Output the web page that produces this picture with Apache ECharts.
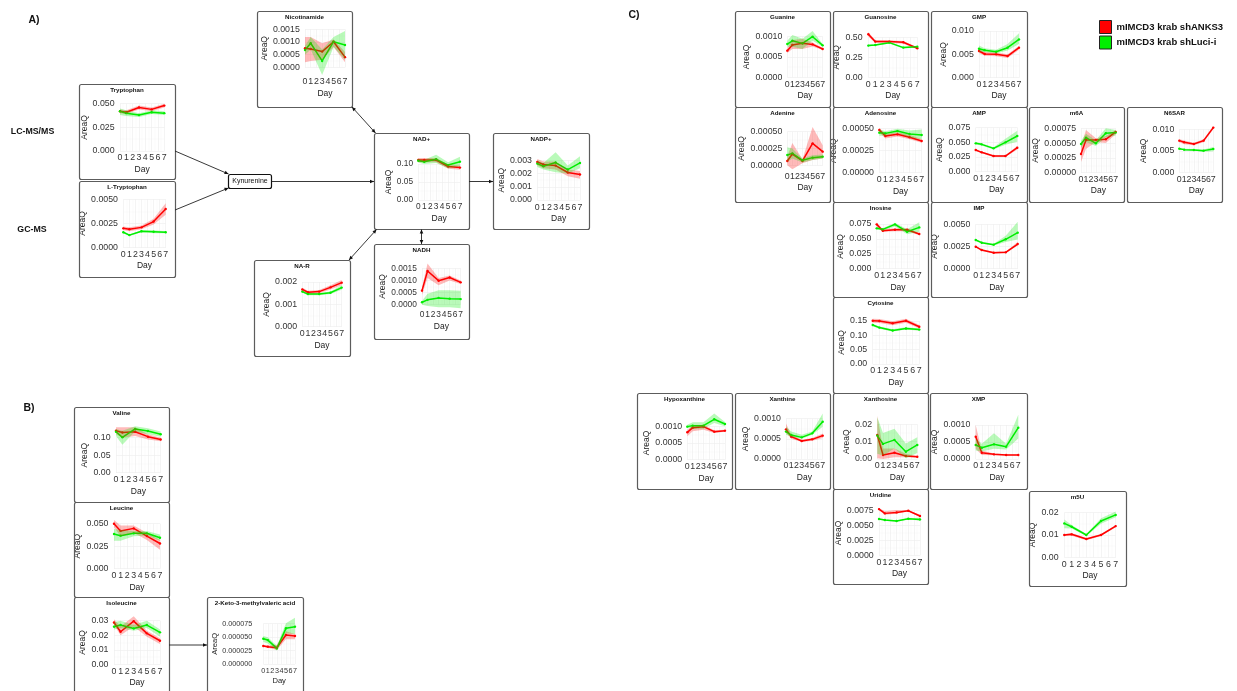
<!DOCTYPE html>
<html>
<head>
<meta charset="utf-8">
<script src="https://cdn.jsdelivr.net/npm/echarts@6/dist/echarts.min.js"></script>
<style>
  html, body { margin: 0; padding: 0; background: #ffffff; }
  #chart { width: 1237px; height: 691px; }
</style>
</head>
<body>
<div id="chart"></div>
<script>
// Sampling days and the two cell lines
const days = [0, 1, 3, 5, 7];
const groupNames = ['mIMCD3 krab shANKS3', 'mIMCD3 krab shLuci-i'];

// Each row is [lower, mean, upper] for one sampling day
const tryptophanTicks = ['0.000', '0.025', '0.050'];
const tryptophanANKS3 = [[0.040, 0.042, 0.044], [0.039, 0.041, 0.043], [0.044, 0.046, 0.048], [0.042, 0.044, 0.046], [0.046, 0.048, 0.050]];
const tryptophanLuci = [[0.038, 0.042, 0.045], [0.037, 0.040, 0.043], [0.036, 0.038, 0.040], [0.039, 0.041, 0.043], [0.038, 0.040, 0.042]];

const lTryptophanTicks = ['0.0000', '0.0025', '0.0050'];
const lTryptophanANKS3 = [[0.0018, 0.0020, 0.0022], [0.0017, 0.0019, 0.0021], [0.0019, 0.0021, 0.0023], [0.0024, 0.0027, 0.0030], [0.0034, 0.0040, 0.0046]];
const lTryptophanLuci = [[0.0015, 0.0016, 0.0017], [0.0012, 0.0013, 0.0014], [0.0016, 0.0017, 0.0018], [0.0015, 0.00165, 0.0018], [0.0015, 0.0016, 0.0017]];

const nicotinamideTicks = ['0.0000', '0.0005', '0.0010', '0.0015'];
const nicotinamideANKS3 = [[0.0002, 0.00075, 0.0012], [0.00025, 0.00072, 0.0012], [0.0003, 0.00062, 0.00095], [0.0008, 0.00101, 0.0011], [0.0002, 0.0004, 0.0006]];
const nicotinamideLuci = [[0.0005, 0.00068, 0.00085], [0.0007, 0.00095, 0.0012], [-0.0003, 0.00025, 0.0007], [0.0008, 0.00101, 0.0012], [0.0003, 0.00088, 0.00143]];

const nadTicks = ['0.00', '0.05', '0.10'];
const nadANKS3 = [[0.105, 0.111, 0.117], [0.105, 0.111, 0.117], [0.105, 0.111, 0.117], [0.087, 0.093, 0.099], [0.084, 0.090, 0.096]];
const nadLuci = [[0.104, 0.109, 0.114], [0.100, 0.106, 0.112], [0.103, 0.113, 0.126], [0.088, 0.097, 0.105], [0.094, 0.1065, 0.120]];

const nadpTicks = ['0.000', '0.001', '0.002', '0.003'];
const nadpANKS3 = [[0.0026, 0.00288, 0.0031], [0.0024, 0.00268, 0.0029], [0.0023, 0.0026, 0.0029], [0.0018, 0.00208, 0.0023], [0.0016, 0.00193, 0.0022]];
const nadpLuci = [[0.0025, 0.00275, 0.0030], [0.0023, 0.00255, 0.0028], [0.0021, 0.00283, 0.0036], [0.0020, 0.0023, 0.0026], [0.0024, 0.0028, 0.0033]];

const naRTicks = ['0.000', '0.001', '0.002'];
const naRANKS3 = [[0.0016, 0.00167, 0.00174], [0.00147, 0.00154, 0.00161], [0.0015, 0.00157, 0.00164], [0.00167, 0.00176, 0.00185], [0.00185, 0.00197, 0.00209]];
const naRLuci = [[0.00152, 0.00157, 0.00162], [0.00141, 0.00146, 0.00151], [0.00141, 0.00146, 0.00151], [0.00146, 0.00152, 0.00158], [0.00165, 0.00175, 0.00185]];

const nadhTicks = ['0.0000', '0.0005', '0.0010', '0.0015'];
const nadhANKS3 = [[0.0004, 0.00058, 0.0007], [0.0011, 0.00139, 0.0017], [0.0008, 0.00099, 0.0011], [0.0010, 0.00112, 0.0012], [0.00085, 0.00092, 0.0010]];
const nadhLuci = [[0.0, 0.0001, 0.00015], [-0.00005, 0.0002, 0.00045], [-0.0001, 0.00028, 0.0006], [-0.0001, 0.00025, 0.0006], [-0.00015, 0.00023, 0.00058]];

const valineTicks = ['0.00', '0.05', '0.10'];
const valineANKS3 = [[0.110, 0.120, 0.130], [0.100, 0.115, 0.130], [0.105, 0.117, 0.130], [0.095, 0.103, 0.110], [0.090, 0.095, 0.100]];
const valineLuci = [[0.105, 0.117, 0.125], [0.080, 0.101, 0.120], [0.118, 0.125, 0.133], [0.110, 0.119, 0.127], [0.103, 0.110, 0.118]];

const leucineTicks = ['0.000', '0.025', '0.050'];
const leucineANKS3 = [[0.046, 0.050, 0.054], [0.036, 0.042, 0.048], [0.040, 0.0448, 0.048], [0.032, 0.0363, 0.040], [0.021, 0.028, 0.032]];
const leucineLuci = [[0.031, 0.0385, 0.044], [0.031, 0.0367, 0.043], [0.036, 0.0393, 0.042], [0.037, 0.0393, 0.042], [0.031, 0.0344, 0.038]];

const isoleucineTicks = ['0.00', '0.01', '0.02', '0.03'];
const isoleucineANKS3 = [[0.027, 0.0288, 0.031], [0.020, 0.0224, 0.026], [0.026, 0.0297, 0.033], [0.019, 0.0213, 0.023], [0.014, 0.0162, 0.018]];
const isoleucineLuci = [[0.024, 0.0259, 0.029], [0.025, 0.027, 0.030], [0.023, 0.0247, 0.027], [0.025, 0.027, 0.030], [0.019, 0.022, 0.024]];

const ketoTicks = ['0.000000', '0.000025', '0.000050', '0.000075'];
const ketoANKS3 = [[0.0000315, 0.0000335, 0.0000355], [0.0000303, 0.0000323, 0.0000343], [0.000026, 0.0000304, 0.000036], [0.000046, 0.000054, 0.000061], [0.000046, 0.000052, 0.000056]];
const ketoLuci = [[0.000041, 0.000047, 0.000052], [0.000038, 0.0000445, 0.00005], [0.000025, 0.000029, 0.000034], [0.000057, 0.0000664, 0.000076], [0.000056, 0.0000695, 0.000086]];

const guanineTicks = ['0.0000', '0.0005', '0.0010'];
const guanineANKS3 = [[0.0006, 0.000656, 0.00072], [0.0007, 0.000795, 0.00092], [0.0007, 0.000836, 0.00095], [0.00076, 0.00081, 0.00086], [0.00067, 0.000697, 0.00072]];
const guanineLuci = [[0.00075, 0.00082, 0.0009], [0.00075, 0.0009, 0.00104], [0.0007, 0.000836, 0.00095], [0.0009, 0.001, 0.00114], [0.00075, 0.000787, 0.00082]];

const guanosineTicks = ['0.00', '0.25', '0.50'];
const guanosineANKS3 = [[0.51, 0.5375, 0.565], [0.43, 0.446, 0.462], [0.43, 0.446, 0.462], [0.42, 0.4375, 0.455], [0.35, 0.3625, 0.375]];
const guanosineLuci = [[0.386, 0.396, 0.406], [0.394, 0.404, 0.414], [0.423, 0.433, 0.443], [0.361, 0.371, 0.381], [0.373, 0.383, 0.393]];

const gmpTicks = ['0.000', '0.005', '0.010'];
const gmpANKS3 = [[0.0053, 0.00571, 0.0061], [0.0047, 0.00507, 0.0055], [0.0046, 0.005, 0.0054], [0.0042, 0.00464, 0.0050], [0.0060, 0.00643, 0.0068]];
const gmpLuci = [[0.0055, 0.0062, 0.0069], [0.0055, 0.0059, 0.0063], [0.0052, 0.00557, 0.0060], [0.0058, 0.00643, 0.0072], [0.0072, 0.0082, 0.0095]];

const adenineTicks = ['0.00000', '0.00025', '0.00050'];
const adenineANKS3 = [[0.0, 0.0000644, 0.00013], [-0.00006, 0.000168, 0.00033], [0.00003, 0.0000644, 0.00009], [0.00008, 0.000327, 0.00057], [0.0001, 0.000203, 0.0003]];
const adenineLuci = [[0.00005, 0.000153, 0.00027], [0.0001, 0.000178, 0.00025], [0.00004, 0.0000743, 0.0001], [0.00008, 0.000114, 0.00015], [0.0001, 0.000129, 0.00016]];

const adenosineTicks = ['0.00000', '0.00025', '0.00050'];
const adenosineANKS3 = [[0.00046, 0.000485, 0.00051], [0.00039, 0.000417, 0.00044], [0.00041, 0.000436, 0.00046], [0.00038, 0.000402, 0.00043], [0.00034, 0.00036, 0.00038]];
const adenosineLuci = [[0.00042, 0.000455, 0.00049], [0.00042, 0.000447, 0.00047], [0.00045, 0.000473, 0.0005], [0.0004, 0.00044, 0.00048], [0.00038, 0.000428, 0.00049]];

const ampTicks = ['0.000', '0.025', '0.050', '0.075'];
const ampANKS3 = [[0.0354, 0.0369, 0.0384], [0.0315, 0.033, 0.0345], [0.0252, 0.0267, 0.0282], [0.0252, 0.0267, 0.0282], [0.038, 0.0409, 0.044]];
const ampLuci = [[0.0463, 0.0483, 0.0503], [0.0446, 0.0466, 0.0486], [0.0378, 0.0398, 0.0418], [0.046, 0.050, 0.056], [0.051, 0.0608, 0.070]];

const m6aTicks = ['0.00000', '0.00025', '0.00050', '0.00075'];
const m6aANKS3 = [[0.00018, 0.000316, 0.00045], [0.0004, 0.000553, 0.00072], [0.00052, 0.000553, 0.00058], [0.0005, 0.000564, 0.00062], [0.00065, 0.000688, 0.00072]];
const m6aLuci = [[0.00043, 0.000485, 0.00054], [0.00052, 0.000593, 0.00066], [0.00045, 0.000497, 0.00055], [0.0006, 0.000666, 0.00075], [0.00063, 0.000677, 0.00072]];

const n6sarTicks = ['0.000', '0.005', '0.010'];
const n6sarANKS3 = [[0.0070, 0.00736, 0.0077], [0.0065, 0.00698, 0.0074], [0.0063, 0.00659, 0.0069], [0.0070, 0.00736, 0.0077], [0.0100, 0.0104, 0.0108]];
const n6sarLuci = [[0.0053, 0.0055, 0.0057], [0.0051, 0.00527, 0.0055], [0.0050, 0.0052, 0.0054], [0.0048, 0.00504, 0.0053], [0.0049, 0.00543, 0.0059]];

const inosineTicks = ['0.000', '0.025', '0.050', '0.075'];
const inosineANKS3 = [[0.071, 0.0744, 0.078], [0.062, 0.0638, 0.066], [0.063, 0.0654, 0.068], [0.063, 0.0654, 0.068], [0.056, 0.0582, 0.060]];
const inosineLuci = [[0.0657, 0.0677, 0.0697], [0.064, 0.066, 0.068], [0.071, 0.0744, 0.077], [0.058, 0.062, 0.066], [0.062, 0.0693, 0.078]];

const impTicks = ['0.0000', '0.0025', '0.0050'];
const impANKS3 = [[0.00238, 0.00248, 0.00258], [0.002, 0.0021, 0.0022], [0.0017, 0.0018, 0.0019], [0.00174, 0.00184, 0.00194], [0.0026, 0.00278, 0.0030]];
const impLuci = [[0.00313, 0.00323, 0.00333], [0.00283, 0.00293, 0.00303], [0.00261, 0.00271, 0.00281], [0.0030, 0.00331, 0.0037], [0.0033, 0.00406, 0.0053]];

const cytosineTicks = ['0.00', '0.05', '0.10', '0.15'];
const cytosineANKS3 = [[0.144, 0.151, 0.158], [0.143, 0.150, 0.157], [0.135, 0.142, 0.149], [0.144, 0.151, 0.158], [0.124, 0.130, 0.136]];
const cytosineLuci = [[0.132, 0.136, 0.140], [0.123, 0.127, 0.131], [0.113, 0.117, 0.121], [0.120, 0.124, 0.128], [0.116, 0.120, 0.124]];

const hypoxanthineTicks = ['0.0000', '0.0005', '0.0010'];
const hypoxanthineANKS3 = [[0.0007, 0.00082, 0.0009], [0.00085, 0.00096, 0.00102], [0.0009, 0.00099, 0.00105], [0.0008, 0.00084, 0.00088], [0.00084, 0.00087, 0.0009]];
const hypoxanthineLuci = [[0.00095, 0.00099, 0.00105], [0.00093, 0.00102, 0.00112], [0.00093, 0.00102, 0.00112], [0.0011, 0.00121, 0.00138], [0.001, 0.00107, 0.00113]];

const xanthineTicks = ['0.0000', '0.0005', '0.0010'];
const xanthineANKS3 = [[0.00065, 0.000736, 0.00088], [0.0005, 0.000554, 0.0006], [0.00042, 0.000446, 0.00048], [0.00045, 0.000488, 0.00052], [0.00052, 0.000579, 0.00063]];
const xanthineLuci = [[0.0006, 0.00068, 0.0008], [0.00055, 0.000595, 0.00068], [0.0005, 0.000537, 0.0006], [0.0006, 0.000636, 0.00068], [0.0008, 0.000925, 0.00113]];

const xanthosineTicks = ['0.00', '0.01', '0.02'];
const xanthosineANKS3 = [[0.0004, 0.0138, 0.025], [0.0, 0.0023, 0.006], [0.001, 0.00365, 0.006], [0.001, 0.0017, 0.003], [0.0008, 0.0013, 0.0018]];
const xanthosineLuci = [[0.003, 0.0135, 0.024], [0.002, 0.0087, 0.015], [0.006, 0.011, 0.0175], [0.0005, 0.0042, 0.009], [0.0035, 0.0081, 0.0125]];

const xmpTicks = ['0.0000', '0.0005', '0.0010'];
const xmpANKS3 = [[0.0003, 0.000657, 0.001], [0.00012, 0.000186, 0.00025], [0.00011, 0.000137, 0.00016], [0.0001, 0.000118, 0.00014], [0.0001, 0.000118, 0.00014]];
const xmpLuci = [[0.00025, 0.000412, 0.0006], [0.00022, 0.000333, 0.00045], [0.0003, 0.000431, 0.00076], [0.00028, 0.000363, 0.00045], [0.0006, 0.000922, 0.0013]];

const uridineTicks = ['0.0000', '0.0025', '0.0050', '0.0075'];
const uridineANKS3 = [[0.00757, 0.00777, 0.00797], [0.0068, 0.00705, 0.0074], [0.0070, 0.00721, 0.0076], [0.00739, 0.00749, 0.00759], [0.0064, 0.0066, 0.0068]];
const uridineLuci = [[0.006, 0.0061, 0.0062], [0.00583, 0.00593, 0.00603], [0.00566, 0.00576, 0.00586], [0.00605, 0.00615, 0.00625], [0.0058, 0.00604, 0.0063]];

const m5uTicks = ['0.00', '0.01', '0.02'];
const m5uANKS3 = [[0.0095, 0.010, 0.0105], [0.0097, 0.0103, 0.0109], [0.0077, 0.0082, 0.0087], [0.0095, 0.010, 0.0105], [0.0135, 0.014, 0.0145]];
const m5uLuci = [[0.013, 0.0152, 0.017], [0.0129, 0.0137, 0.0145], [0.0095, 0.010, 0.0105], [0.015, 0.0163, 0.0175], [0.018, 0.019, 0.0205]];

// Metabolite panels, assembled from the arrays above
const panels = [
  { title: 'Tryptophan', ticks: tryptophanTicks, anks3: tryptophanANKS3, luci: tryptophanLuci },
  { title: 'L-Tryptophan', ticks: lTryptophanTicks, anks3: lTryptophanANKS3, luci: lTryptophanLuci },
  { title: 'Nicotinamide', ticks: nicotinamideTicks, anks3: nicotinamideANKS3, luci: nicotinamideLuci },
  { title: 'NAD+', ticks: nadTicks, anks3: nadANKS3, luci: nadLuci },
  { title: 'NADP+', ticks: nadpTicks, anks3: nadpANKS3, luci: nadpLuci },
  { title: 'NA-R', ticks: naRTicks, anks3: naRANKS3, luci: naRLuci },
  { title: 'NADH', ticks: nadhTicks, anks3: nadhANKS3, luci: nadhLuci },
  { title: 'Valine', ticks: valineTicks, anks3: valineANKS3, luci: valineLuci },
  { title: 'Leucine', ticks: leucineTicks, anks3: leucineANKS3, luci: leucineLuci },
  { title: 'Isoleucine', ticks: isoleucineTicks, anks3: isoleucineANKS3, luci: isoleucineLuci },
  { title: '2-Keto-3-methylvaleric acid', ticks: ketoTicks, anks3: ketoANKS3, luci: ketoLuci },
  { title: 'Guanine', ticks: guanineTicks, anks3: guanineANKS3, luci: guanineLuci },
  { title: 'Guanosine', ticks: guanosineTicks, anks3: guanosineANKS3, luci: guanosineLuci },
  { title: 'GMP', ticks: gmpTicks, anks3: gmpANKS3, luci: gmpLuci },
  { title: 'Adenine', ticks: adenineTicks, anks3: adenineANKS3, luci: adenineLuci },
  { title: 'Adenosine', ticks: adenosineTicks, anks3: adenosineANKS3, luci: adenosineLuci },
  { title: 'AMP', ticks: ampTicks, anks3: ampANKS3, luci: ampLuci },
  { title: 'm6A', ticks: m6aTicks, anks3: m6aANKS3, luci: m6aLuci },
  { title: 'N6SAR', ticks: n6sarTicks, anks3: n6sarANKS3, luci: n6sarLuci },
  { title: 'Inosine', ticks: inosineTicks, anks3: inosineANKS3, luci: inosineLuci },
  { title: 'IMP', ticks: impTicks, anks3: impANKS3, luci: impLuci },
  { title: 'Cytosine', ticks: cytosineTicks, anks3: cytosineANKS3, luci: cytosineLuci },
  { title: 'Hypoxanthine', ticks: hypoxanthineTicks, anks3: hypoxanthineANKS3, luci: hypoxanthineLuci },
  { title: 'Xanthine', ticks: xanthineTicks, anks3: xanthineANKS3, luci: xanthineLuci },
  { title: 'Xanthosine', ticks: xanthosineTicks, anks3: xanthosineANKS3, luci: xanthosineLuci },
  { title: 'XMP', ticks: xmpTicks, anks3: xmpANKS3, luci: xmpLuci },
  { title: 'Uridine', ticks: uridineTicks, anks3: uridineANKS3, luci: uridineLuci },
  { title: 'm5U', ticks: m5uTicks, anks3: m5uANKS3, luci: m5uLuci }
];

// Placement of each panel: frame [x0, y0, x1, y1] and plot anchors
// [x of day 0, x of day 7, y of lowest tick, y of highest tick];
// optional fs / nfs (tick / axis-title font size) and ym (y-label margin)
const layout = {
  'Tryptophan': { box: [79, 84, 175, 179], axis: [120, 164.3, 151, 103.7] },
  'L-Tryptophan': { box: [79, 181, 175, 277], axis: [123.3, 165.7, 247.7, 199.3] },
  'Nicotinamide': { box: [257, 11, 352, 107], axis: [305, 345, 67.3, 29.3] },
  'NAD+': { box: [374, 133, 469, 229], axis: [418.3, 460, 200, 164], fs: 8.3 },
  'NADP+': { box: [493, 133, 589, 229], axis: [537.3, 580, 200, 160.3] },
  'NA-R': { box: [254, 260, 350, 356], axis: [302.3, 341.7, 326.7, 282] },
  'NADH': { box: [374, 244, 469, 339], axis: [422, 460.7, 304.7, 268.3], fs: 8.4 },
  'Valine': { box: [74, 407, 169, 502], axis: [116, 160.7, 472.7, 437.7] },
  'Leucine': { box: [74, 502, 169, 597], axis: [114, 160, 568.7, 523.7] },
  'Isoleucine': { box: [74, 597, 169, 694], axis: [114, 160, 664.3, 620.7] },
  '2-Keto-3-methylvaleric acid': { box: [207, 597, 303, 694], axis: [263.3, 295, 664, 623.7], fs: 7.2, nfs: 7.6, ym: 11 },
  'Guanine': { box: [735, 11, 830, 107], axis: [787.3, 822.7, 77.3, 36.7] },
  'Guanosine': { box: [833, 11, 928, 107], axis: [868.3, 917.3, 77.3, 37.3] },
  'GMP': { box: [931, 11, 1027, 107], axis: [979, 1019, 77.7, 31] },
  'Adenine': { box: [735, 107, 830, 202], axis: [787.3, 822.7, 165.3, 131.7] },
  'Adenosine': { box: [833, 107, 928, 202], axis: [879.3, 921.7, 172.7, 128.7] },
  'AMP': { box: [931, 107, 1027, 202], axis: [975.7, 1017.3, 171.7, 127.7] },
  'm6A': { box: [1029, 107, 1124, 202], axis: [1081, 1115.7, 172.7, 128.3] },
  'N6SAR': { box: [1127, 107, 1222, 202], axis: [1179.3, 1213.3, 172.3, 129.3] },
  'Inosine': { box: [833, 202, 928, 297], axis: [876.7, 919.3, 268.7, 224] },
  'IMP': { box: [931, 202, 1027, 297], axis: [975.7, 1017.7, 268.7, 224.3] },
  'Cytosine': { box: [833, 297, 928, 393], axis: [872.7, 919.3, 364, 321] },
  'Hypoxanthine': { box: [637, 393, 732, 489], axis: [687.3, 725, 459.7, 426.3] },
  'Xanthine': { box: [735, 393, 830, 489], axis: [786, 822.7, 459, 418.7] },
  'Xanthosine': { box: [833, 393, 928, 489], axis: [877.3, 917.3, 459, 424.3] },
  'XMP': { box: [930, 393, 1027, 489], axis: [975.7, 1018.3, 459, 425] },
  'Uridine': { box: [833, 489, 928, 584], axis: [879, 920, 555.3, 510.7] },
  'm5U': { box: [1029, 491, 1126, 586], axis: [1064.3, 1115.7, 557.3, 512.7] }
};

// Pathway connectors: [from, to, double-headed]
const arrows = [
  [[175, 151], [228.5, 174], false],
  [[175, 210], [228.5, 188], false],
  [[271.5, 181.5], [374, 181.5], false],
  [[352, 107], [375.5, 133], true],
  [[469, 181.5], [493, 181.5], false],
  [[349, 260], [376.5, 229.5], true],
  [[421.5, 229.5], [421.5, 244], true],
  [[169, 645], [207, 645], false]
];

const FONT = '"Liberation Sans", Arial, Helvetica, sans-serif';
const TICK_FS = 8.8, NAME_FS = 8.5, TITLE_FS = 6.2;
const COLORS = ['#ff0000', '#00ee00'];
const BANDS = ['rgba(255,0,0,0.27)', 'rgba(0,235,0,0.27)'];

const measureCtx = document.createElement('canvas').getContext('2d');
function textWidth(s, size) {
  measureCtx.font = size + 'px "Liberation Sans", Arial, sans-serif';
  return measureCtx.measureText(s).width;
}

function bandSeries(rows, color, idx) {
  return {
    type: 'custom', xAxisIndex: idx, yAxisIndex: idx, silent: true, z: 3, clip: false,
    animation: false,
    data: days.map((d, k) => [d, rows[k][0], rows[k][2]]),
    encode: { x: 0, y: [1, 2] },
    renderItem(params, api) {
      if (params.dataIndex !== 0) return null;
      const upper = days.map((d, k) => api.coord([d, rows[k][2]]));
      const lower = days.map((d, k) => api.coord([d, rows[k][0]])).reverse();
      return { type: 'polygon', shape: { points: upper.concat(lower) }, style: { fill: color }, silent: true };
    }
  };
}

function lineSeries(rows, g, idx) {
  return {
    type: 'line', name: groupNames[g], xAxisIndex: idx, yAxisIndex: idx,
    data: days.map((d, k) => [d, rows[k][1]]),
    symbol: 'circle', symbolSize: 2.4, showSymbol: true, clip: false, silent: true, z: 2,
    lineStyle: { width: 1.5, color: COLORS[g] }, itemStyle: { color: COLORS[g] },
    emphasis: { disabled: true }, animation: false
  };
}

const grid = [], xAxis = [], yAxis = [], series = [], graphic = [];

panels.forEach((p, i) => {
  const L = layout[p.title];
  const [bx0, by0, bx1, by1] = L.box;
  const [d0, d7, yMinPx, yMaxPx] = L.axis;
  const fs = L.fs || TICK_FS, nfs = L.nfs || NAME_FS;
  const tickVals = p.ticks.map(Number);
  const tMin = tickVals[0], tMax = tickVals[tickVals.length - 1];
  const step = tickVals[1] - tickVals[0];
  const decimals = (p.ticks[0].split('.')[1] || '').length;
  const dayPx = (d7 - d0) / 7;
  const unitPx = (yMinPx - yMaxPx) / (tMax - tMin);
  const rows = p.anks3.concat(p.luci);
  const lo = Math.min(0, ...rows.map(r => r[0]));
  const hi = Math.max(...rows.map(r => r[2]));
  const bottomOff = (tMin - (lo - 0.05 * (hi - lo))) * unitPx;
  const labelW = Math.max(...p.ticks.map(t => textWidth(t, fs)));
  const yMargin = L.ym || (0.35 * dayPx + 3.2);

  grid.push({ left: d0, top: yMaxPx, width: d7 - d0, height: yMinPx - yMaxPx, containLabel: false, outerBoundsMode: 'none' });

  xAxis.push({
    gridIndex: i, type: 'value', min: 0, max: 7, interval: 1,
    axisLine: { show: false }, axisTick: { show: false },
    axisLabel: {
      fontSize: fs, fontFamily: FONT, color: '#333', margin: bottomOff + 4.6 - fs / 2,
      showMinLabel: true, showMaxLabel: true, hideOverlap: false, interval: 0
    },
    splitLine: { show: true, lineStyle: { color: '#ececec', width: 0.6 } },
    minorTick: { show: false, splitNumber: 2 },
    minorSplitLine: { show: true, lineStyle: { color: '#f5f5f5', width: 0.4 } },
    name: 'Day', nameLocation: 'middle', nameGap: bottomOff + 4.6 + fs / 2 + nfs * 0.85,
    nameTextStyle: { fontSize: nfs, fontFamily: FONT, color: '#222', verticalAlign: 'middle' }
  });

  yAxis.push({
    gridIndex: i, type: 'value', min: tMin, max: tMax, interval: step,
    axisLine: { show: false }, axisTick: { show: false },
    axisLabel: {
      fontSize: fs, fontFamily: FONT, color: '#333', margin: yMargin,
      formatter: v => v.toFixed(decimals), showMinLabel: true, showMaxLabel: true, hideOverlap: false
    },
    splitLine: { show: true, lineStyle: { color: '#ececec', width: 0.6 } },
    minorTick: { show: false, splitNumber: 2 },
    minorSplitLine: { show: true, lineStyle: { color: '#f5f5f5', width: 0.4 } },
    name: 'AreaQ', nameLocation: 'middle', nameGap: yMargin + labelW + 4.8,
    nameTextStyle: { fontSize: nfs, fontFamily: FONT, color: '#222', verticalAlign: 'middle' }
  });

  series.push(lineSeries(p.anks3, 0, i), lineSeries(p.luci, 1, i));
  series.push(bandSeries(p.anks3, BANDS[0], i), bandSeries(p.luci, BANDS[1], i));

  // panel frame and title
  graphic.push({
    type: 'rect', silent: true, z: 1,
    shape: { x: bx0 + 0.5, y: by0 + 0.5, width: bx1 - bx0, height: by1 - by0, r: 2 },
    style: { fill: 'none', stroke: '#5c5c5c', lineWidth: 1.2 }
  });
  graphic.push({
    type: 'text', silent: true, z: 5, x: (bx0 + bx1) / 2, y: by0 + 6.5,
    style: { text: p.title, fontSize: TITLE_FS, fontWeight: 'bold', fontFamily: FONT, fill: '#111', align: 'center', verticalAlign: 'middle' }
  });
});

// arrow heads for the pathway connectors
function head(tip, from) {
  const dx = tip[0] - from[0], dy = tip[1] - from[1];
  const len = Math.hypot(dx, dy), ux = dx / len, uy = dy / len;
  const bx = tip[0] - ux * 4, by = tip[1] - uy * 4;
  return { type: 'polygon', silent: true, z: 5,
    shape: { points: [tip, [bx - uy * 1.8, by + ux * 1.8], [bx + uy * 1.8, by - ux * 1.8]] },
    style: { fill: '#111' } };
}
arrows.forEach(([from, to, both]) => {
  graphic.push({ type: 'line', silent: true, z: 5, shape: { x1: from[0], y1: from[1], x2: to[0], y2: to[1] }, style: { stroke: '#222', lineWidth: 0.9 } });
  graphic.push(head(to, from));
  if (both) graphic.push(head(from, to));
});

// Kynurenine node
graphic.push({ type: 'rect', silent: true, z: 5, shape: { x: 228.5, y: 174.5, width: 43, height: 14, r: 2 }, style: { fill: '#fff', stroke: '#111', lineWidth: 1.2 } });
graphic.push({ type: 'text', silent: true, z: 6, x: 250, y: 181.5, style: { text: 'Kynurenine', fontSize: 7, fontFamily: FONT, fill: '#111', align: 'center', verticalAlign: 'middle' } });

// section letters and platform labels
[
  ['A)', 34, 20, 10.5], ['B)', 29, 408, 10.5], ['C)', 634, 15, 10.5],
  ['LC-MS/MS', 32.5, 132, 8.8], ['GC-MS', 32, 230, 8.8]
].forEach(([t, x, y, fs]) => {
  graphic.push({ type: 'text', silent: true, z: 5, x, y, style: { text: t, fontSize: fs, fontWeight: 'bold', fontFamily: FONT, fill: '#111', align: 'center', verticalAlign: 'middle' } });
});

const chart = echarts.init(document.getElementById('chart'), null, { renderer: 'canvas' });
chart.setOption({
  animation: false,
  backgroundColor: '#ffffff',
  legend: {
    data: groupNames, orient: 'vertical', left: 1099, top: 20, padding: 0,
    itemWidth: 12, itemHeight: 13, itemGap: 1.5, icon: 'rect', selectedMode: false,
    itemStyle: { borderColor: '#222', borderWidth: 1 },
    textStyle: { fontSize: 9.5, fontWeight: 'bold', fontFamily: FONT, color: '#111' }
  },
  grid, xAxis, yAxis, series, graphic
});
</script>
</body>
</html>
